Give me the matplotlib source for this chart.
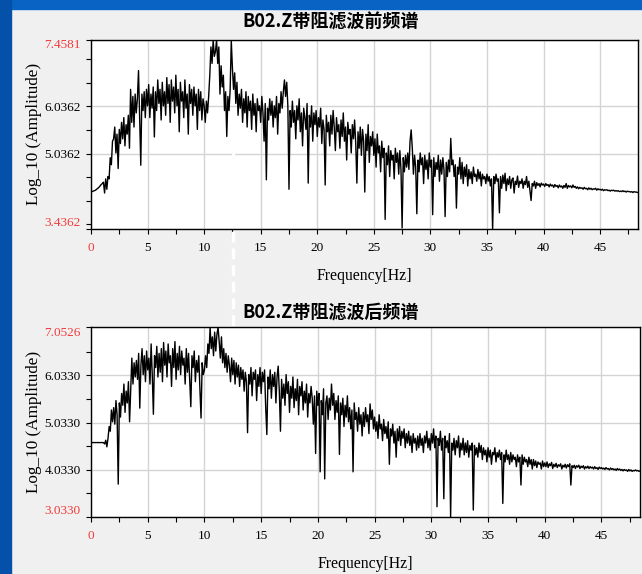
import numpy as np
import matplotlib
matplotlib.use('Agg')
import matplotlib.pyplot as plt
from matplotlib.lines import Line2D
from matplotlib.patches import Rectangle

# spectrum samples every 0.1 Hz (one row = 1 Hz)
df = 0.1

amp_before = [
    4.22, 4.23, 4.24, 4.25, 4.26, 4.28, 4.30, 4.32, 4.35, 4.38,
    4.40, 4.43, 4.20, 4.50, 4.28, 4.55, 4.50, 4.95, 4.80, 5.30,
    5.35, 5.60, 5.05, 5.45, 4.72, 5.55, 5.25, 5.70, 5.35, 5.80,
    5.20, 5.65, 5.45, 5.85, 5.15, 6.40, 5.70, 6.25, 5.60, 6.30,
    5.90, 6.20, 6.80, 5.75, 4.79, 6.30, 5.95, 6.35, 5.80, 6.40,
    6.05, 6.50, 5.80, 6.30, 6.00, 6.45, 5.39, 6.35, 5.95, 6.60,
    6.10, 6.40, 5.75, 6.55, 6.05, 6.35, 5.85, 6.65, 6.10, 6.50,
    5.70, 6.60, 6.15, 6.45, 5.90, 6.70, 6.05, 6.40, 5.50, 6.55,
    6.15, 6.35, 5.80, 6.60, 6.00, 6.30, 5.45, 6.50, 6.10, 6.40,
    5.85, 6.45, 6.05, 6.30, 5.55, 6.40, 5.95, 6.35, 5.75, 6.20,
    6.05, 5.70, 6.15, 5.90, 6.25, 6.70, 7.30, 6.95, 7.45, 7.10,
    7.20, 7.45, 6.95, 7.30, 6.30, 6.90, 6.45, 6.70, 5.95, 6.35,
    5.40, 6.25, 5.95, 6.40, 7.43, 6.85, 6.40, 6.75, 6.10, 6.55,
    5.85, 6.30, 6.00, 6.40, 5.70, 6.20, 5.90, 6.35, 5.60, 6.25,
    5.95, 6.15, 5.55, 6.30, 5.85, 6.10, 5.50, 6.20, 5.95, 6.05,
    5.70, 6.25, 5.90, 5.30, 6.10, 4.48, 6.00, 5.75, 6.20, 5.85,
    6.15, 5.60, 6.05, 5.80, 6.25, 5.45, 6.10, 5.90, 6.35, 6.00,
    6.35, 6.60, 6.25, 6.55, 6.05, 4.28, 5.95, 5.60, 6.15, 5.70,
    5.95, 5.35, 6.05, 5.75, 6.20, 5.50, 5.90, 5.20, 6.00, 5.80,
    5.55, 6.10, 4.41, 5.85, 5.60, 6.05, 5.30, 5.90, 5.65, 5.95,
    5.40, 5.80, 5.60, 6.00, 5.25, 5.75, 5.55, 4.37, 5.85, 5.50,
    5.70, 5.20, 5.85, 5.45, 5.95, 5.60, 5.10, 5.80, 5.50, 5.65,
    5.15, 5.75, 5.40, 5.90, 5.30, 5.60, 4.90, 5.70, 5.45, 5.55,
    5.05, 5.65, 5.35, 5.75, 5.25, 4.41, 5.50, 5.15, 5.60, 5.00,
    5.55, 5.30, 4.22, 5.45, 5.10, 5.65, 4.85, 5.40, 5.20, 5.50,
    5.00, 5.35, 4.75, 5.45, 5.05, 5.20, 4.65, 5.30, 4.95, 5.15,
    3.64, 5.05, 4.80, 5.20, 4.55, 5.10, 4.90, 5.00, 4.50, 5.15,
    4.85, 5.05, 4.60, 5.10, 4.70, 3.46, 4.95, 4.65, 5.00, 4.75,
    5.05, 4.70, 5.30, 5.54, 5.15, 4.60, 5.00, 4.75, 3.76, 4.90,
    4.65, 5.05, 4.80, 4.95, 4.40, 5.00, 4.70, 4.90, 4.50, 5.05,
    4.75, 4.90, 3.74, 4.95, 4.55, 4.85, 4.70, 5.00, 4.45, 4.90,
    4.60, 4.95, 4.70, 3.70, 4.85, 4.55, 4.90, 4.65, 5.36, 4.80,
    4.90, 4.55, 4.80, 3.88, 4.75, 4.60, 4.95, 4.50, 4.85, 4.40,
    4.75, 4.55, 4.80, 4.35, 4.70, 4.50, 4.65, 4.40, 4.75, 4.55,
    4.60, 4.45, 4.70, 4.50, 4.65, 4.35, 4.60, 4.50, 4.55, 4.40,
    4.60, 4.45, 4.55, 4.35, 4.50, 3.41, 4.55, 4.40, 4.60, 4.45,
    4.50, 3.78, 4.55, 4.30, 4.58, 4.40, 4.62, 4.25, 4.50, 4.38,
    4.55, 4.30, 4.48, 4.52, 4.20, 4.45, 4.38, 4.56, 4.32, 4.45,
    4.40, 4.50, 4.30, 4.45, 4.38, 4.55, 4.32, 4.45, 4.25, 4.04,
    4.40, 4.35, 4.45, 4.30, 4.42, 4.36, 4.40, 4.33, 4.41, 4.37,
    4.39, 4.34, 4.40, 4.36, 4.38, 4.33, 4.39, 4.35, 4.37, 4.32,
    4.38, 4.34, 4.36, 4.31, 4.37, 4.33, 4.35, 4.30, 4.36, 4.32,
    4.40, 4.30, 4.36, 4.33, 4.35, 4.31, 4.37, 4.32, 4.34, 4.30,
    4.33, 4.29, 4.32, 4.30, 4.31, 4.28, 4.32, 4.29, 4.30, 4.27,
    4.31, 4.28, 4.30, 4.27, 4.29, 4.28, 4.30, 4.26, 4.29, 4.27,
    4.28, 4.26, 4.28, 4.25, 4.27, 4.26, 4.27, 4.25, 4.26, 4.24,
    4.26, 4.25, 4.26, 4.24, 4.25, 4.24, 4.25, 4.23, 4.24, 4.23,
    4.25, 4.23, 4.24, 4.22, 4.24, 4.23, 4.23, 4.22, 4.23, 4.21,
    4.23, 4.22, 4.22, 4.21, 4.22, 4.21,
]

amp_after = [
    4.61, 4.61, 4.61, 4.61, 4.61, 4.61, 4.61, 4.61, 4.61, 4.61,
    4.61, 4.61, 4.58, 4.66, 4.52, 4.70, 4.95, 4.85, 5.30, 5.05,
    5.35, 5.00, 5.50, 5.20, 3.73, 5.45, 5.15, 5.65, 5.40, 5.85,
    5.25, 5.70, 5.45, 5.90, 5.05, 5.75, 6.40, 5.85, 6.30, 6.00,
    6.35, 5.95, 6.50, 5.34, 6.25, 6.60, 6.05, 6.45, 5.90, 6.55,
    6.15, 6.40, 5.85, 6.70, 6.05, 5.21, 6.45, 6.20, 6.65, 6.00,
    6.50, 6.10, 6.60, 5.90, 6.73, 6.25, 6.55, 6.00, 6.70, 6.30,
    6.45, 5.80, 6.60, 6.20, 6.75, 5.95, 6.50, 6.15, 6.65, 6.05,
    6.55, 6.25, 6.40, 5.85, 6.60, 6.10, 6.50, 5.95, 5.37, 6.45,
    6.20, 6.55, 5.90, 6.35, 6.10, 6.45, 5.75, 5.13, 6.30, 6.05,
    6.15, 6.45, 6.20, 6.70, 6.50, 7.05, 6.60, 6.85, 6.45, 6.95,
    6.55, 6.90, 7.05, 6.75, 6.40, 6.85, 6.30, 6.60, 6.20, 6.50,
    6.10, 6.45, 6.25, 5.90, 6.40, 6.05, 6.35, 5.85, 6.30, 6.00,
    6.25, 5.80, 6.20, 5.95, 6.15, 5.70, 6.10, 5.90, 4.82, 6.05,
    5.85, 6.20, 5.60, 6.10, 5.95, 6.15, 5.50, 6.05, 5.80, 6.20,
    5.65, 6.10, 5.90, 6.15, 5.35, 4.78, 6.00, 5.75, 6.15, 5.55,
    6.05, 5.80, 6.10, 5.45, 6.00, 6.23, 5.70, 4.85, 5.95, 5.55,
    5.85, 5.40, 6.05, 5.65, 5.90, 5.25, 5.80, 5.55, 6.00, 5.35,
    5.75, 5.50, 5.95, 5.20, 5.80, 5.60, 5.90, 5.30, 5.70, 5.45,
    5.85, 5.15, 5.65, 5.45, 5.80, 5.55, 5.00, 5.60, 4.38, 5.70,
    5.40, 5.65, 3.99, 5.50, 5.20, 5.75, 3.84, 5.45, 5.60, 5.10,
    5.55, 5.30, 5.85, 5.40, 5.65, 5.10, 5.50, 5.25, 5.60, 4.36,
    5.45, 5.20, 5.55, 4.95, 5.40, 5.15, 5.60, 5.05, 5.35, 4.90,
    5.30, 3.99, 5.45, 5.10, 5.25, 4.85, 5.35, 5.00, 5.20, 4.75,
    5.25, 4.95, 5.35, 5.05, 5.20, 4.80, 5.43, 5.10, 5.30, 4.90,
    5.15, 4.85, 5.05, 4.70, 5.20, 4.90, 5.00, 4.65, 5.10, 4.80,
    4.95, 4.70, 5.05, 4.15, 4.90, 4.75, 5.00, 4.60, 4.85, 4.30,
    4.90, 4.65, 4.95, 4.55, 4.85, 4.70, 4.90, 4.50, 4.80, 4.60,
    4.85, 4.55, 4.75, 4.40, 4.80, 4.60, 4.70, 4.45, 4.75, 4.50,
    4.80, 4.55, 4.70, 4.40, 4.75, 4.60, 4.85, 4.50, 4.70, 4.45,
    4.80, 4.60, 4.90, 4.50, 4.75, 3.25, 4.70, 4.55, 4.85, 4.45,
    4.70, 3.42, 4.75, 4.50, 4.65, 4.40, 4.80, 3.03, 4.60, 4.45,
    4.70, 4.35, 4.65, 4.50, 4.75, 4.30, 4.60, 4.45, 4.70, 4.35,
    4.60, 4.40, 4.65, 4.30, 4.55, 4.45, 4.60, 3.18, 4.55, 4.35,
    4.50, 4.30, 4.60, 4.40, 4.55, 4.25, 4.50, 4.35, 4.45, 4.20,
    4.50, 4.30, 4.45, 4.15, 4.40, 4.35, 4.50, 4.20, 4.40, 4.30,
    4.45, 4.25, 4.40, 3.32, 4.35, 4.20, 4.45, 4.25, 4.35, 4.15,
    4.40, 4.20, 4.35, 4.25, 4.30, 4.10, 4.35, 4.20, 4.30, 3.71,
    4.35, 4.15, 4.30, 4.20, 4.25, 4.10, 4.30, 4.15, 4.25, 4.05,
    4.25, 4.12, 4.22, 4.08, 4.20, 4.15, 4.18, 4.05, 4.22, 4.10,
    4.18, 4.10, 4.20, 4.08, 4.16, 4.12, 4.19, 4.06, 4.15, 4.10,
    4.17, 4.08, 4.14, 4.11, 4.16, 4.05, 4.13, 4.09, 4.15, 4.07,
    4.14, 4.10, 4.16, 3.71, 4.12, 4.08, 4.13, 4.06, 4.12, 4.09,
    4.13, 4.06, 4.11, 4.08, 4.12, 4.05, 4.10, 4.07, 4.11, 4.06,
    4.10, 4.07, 4.09, 4.05, 4.10, 4.06, 4.08, 4.04, 4.09, 4.06,
    4.08, 4.05, 4.07, 4.04, 4.08, 4.05, 4.06, 4.03, 4.07, 4.04,
    4.06, 4.03, 4.05, 4.02, 4.06, 4.03, 4.05, 4.02, 4.04, 4.01,
    4.04, 4.02, 4.03, 4.00, 4.04, 4.01, 4.03, 4.00, 4.02, 4.01,
    4.03, 4.01, 4.02, 4.00, 4.01,
]

freq_before = np.arange(len(amp_before)) * df
freq_after = np.arange(len(amp_after)) * df

titles = ['B02.Z带阻滤波前频谱', 'B02.Z带阻滤波后频谱']
y_limits = [(3.4362, 7.4581), (3.0330, 7.0526)]
y_major = [[3.4362, 5.0362, 6.0362, 7.4581],
           [3.0330, 4.0330, 5.0330, 6.0330, 7.0526]]
y_minor = [[3.5362, 4.0362, 4.5362, 5.5362, 6.5362, 7.0362],
           [3.5330, 4.5330, 5.5330, 6.5330]]
x_major = [0, 5, 10, 15, 20, 25, 30, 35, 40, 45]
x_max = 48.35

RED = '#f23b3b'
SERIF = 'Liberation Serif'

W, H = 642, 574
fig = plt.figure(figsize=(W / 100, H / 100), dpi=100)
fig.patch.set_facecolor('#f0f0f0')

# slide background strips
fig.add_artist(Rectangle((0, 1 - 9 / H), 1, 9 / H, transform=fig.transFigure,
                         color='#0863c4', zorder=0))
fig.add_artist(Rectangle((0, 0), 11 / W, 1, transform=fig.transFigure,
                         color='#0550a8', zorder=0))

# axes boxes in pixels: (left, top, right, bottom)
boxes = [(91, 39.5, 638, 229), (91, 327.3, 639.5, 517)]
title_y = [22, 312]
data = [(freq_before, amp_before), (freq_after, amp_after)]

for i in range(2):
    l, t, r, b = boxes[i]
    ax = fig.add_axes([l / W, 1 - b / H, (r - l) / W, (b - t) / H])
    ax.set_facecolor('white')
    f, a = data[i]
    ax.plot(f, a, color='black', lw=1.0, zorder=3)

    ax.set_xlim(0, x_max)
    ax.set_ylim(*y_limits[i])

    ax.set_xticks(x_major)
    ax.set_xticks(np.arange(2.5, 48, 5), minor=True)
    xl = ax.set_xticklabels([str(v) for v in x_major], fontfamily=SERIF, fontsize=9.5)
    xl[0].set_color(RED)

    ax.set_yticks(y_major[i])
    ax.set_yticks(y_minor[i], minor=True)
    yl = ax.set_yticklabels(['%.4f' % v for v in y_major[i]], fontfamily=SERIF, fontsize=9.5)
    yl[0].set_color(RED)
    yl[0].set_va('bottom')
    yl[-1].set_color(RED)
    yl[-1].set_va('top')

    ax.tick_params(which='both', direction='out', length=3.5, width=0.8)
    ax.tick_params(axis='x', pad=6)
    ax.tick_params(axis='y', pad=4)
    ax.grid(which='major', color='#d4d4d4', lw=1.0, zorder=1)
    for s in ax.spines.values():
        s.set_linewidth(1.0)
        s.set_color('black')

    ax.set_xlabel('Frequency[Hz]', fontfamily=SERIF, fontsize=11.3, labelpad=10)
    ax.set_ylabel('Log_10 (Amplitude)', fontfamily=SERIF, fontsize=12.3, labelpad=1.5)

    fig.text(331 / W, 1 - title_y[i] / H, titles[i], ha='center', va='center',
             fontsize=13, fontweight='bold',
             family=['Noto Sans CJK SC', 'DejaVu Sans'])

# white dashed overlay line crossing the two panels
fig.add_artist(Line2D([232.5 / W, 232.5 / W], [1 - 148 / H, 1 - 330 / H],
                      transform=fig.transFigure, color='white', lw=2.4,
                      dashes=(3.2, 1.8), zorder=10))

fig.savefig('out.png', dpi=100, facecolor=fig.get_facecolor())
